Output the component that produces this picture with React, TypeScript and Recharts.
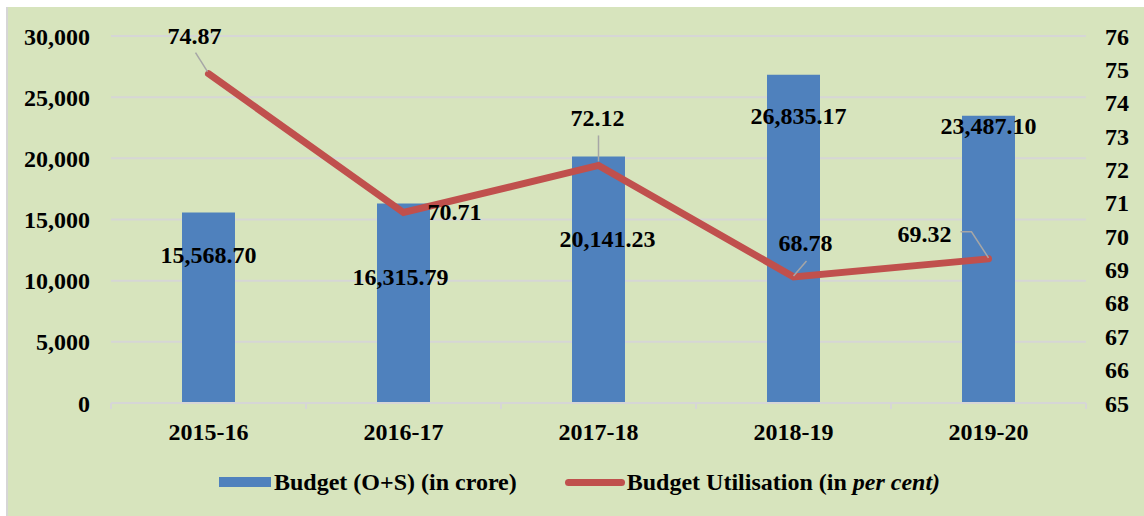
import { Bar, CartesianGrid, ComposedChart, LabelList, Legend, Line, XAxis, YAxis } from "recharts";

const years = ["2015-16", "2016-17", "2017-18", "2018-19", "2019-20"];
const budget = [15568.7, 16315.79, 20141.23, 26835.17, 23487.1];
const utilisation = [74.87, 70.71, 72.12, 68.78, 69.32];
const leftTicks = [0, 5000, 10000, 15000, 20000, 25000, 30000];
const rightTicks = [65, 66, 67, 68, 69, 70, 71, 72, 73, 74, 75, 76];

const data = years.map((year, i) => ({ year, budget: budget[i], utilisation: utilisation[i] }));

// hand-placed label spots (like dragged labels in Excel), relative to the mark
const barLabelOffset = [[0, 42], [-3, 74], [9, 82], [5, 41], [0, 10]];
const lineLabelOffset = [[-14, -38], [51, 0], [-1, -47], [12, -34], [-64, -25]];
const leaders: (number[][] | null)[] = [
  [[-13, -21], [-1, -2]],
  null,
  [[0, -30], [0, -4]],
  [[13, -16], [0, -1]],
  [[-28, -27], [-17, -27], [0, -1]],
];

const BLUE = "#4F81BD";
const RED = "#C0504D";
const BG = "#D7E4BD";
const GRID = "#D6D6D6";
const FONT = '"Liberation Serif", "Times New Roman", serif';
const FS = 24;
const HALF_BAND = 97.5;

const fmt = (v: number) => v.toLocaleString("en-US", { minimumFractionDigits: 2, maximumFractionDigits: 2 });

function YearTick({ x, y, payload, index }: any) {
  const axisY = y - 20;
  return (
    <g>
      <line x1={x - HALF_BAND} x2={x - HALF_BAND} y1={axisY} y2={axisY + 6} stroke={GRID} strokeWidth={2} />
      {index === years.length - 1 && (
        <line x1={x + HALF_BAND} x2={x + HALF_BAND} y1={axisY} y2={axisY + 6} stroke={GRID} strokeWidth={2} />
      )}
      <text x={x} y={y} dy="0.71em" textAnchor="middle" fontFamily={FONT} fontWeight="bold" fontSize={FS} fill="#000">
        {payload.value}
      </text>
    </g>
  );
}

function BarValue({ x, y, width, value, index }: any) {
  const [dx, dy] = barLabelOffset[index];
  return (
    <text x={x + width / 2 + dx} y={y + dy} textAnchor="middle" dominantBaseline="central"
      fontFamily={FONT} fontWeight="bold" fontSize={FS} fill="#000">
      {fmt(value)}
    </text>
  );
}

function LineValue({ x, y, value, index }: any) {
  const [dx, dy] = lineLabelOffset[index];
  const lead = leaders[index];
  return (
    <g>
      {lead && (
        <polyline points={lead.map(([a, b]) => `${x + a},${y + b}`).join(" ")} fill="none" stroke="#A6A6A6" strokeWidth={1.5} />
      )}
      <text x={x + dx} y={y + dy} textAnchor="middle" dominantBaseline="central"
        fontFamily={FONT} fontWeight="bold" fontSize={FS} fill="#000">
        {value.toFixed(2)}
      </text>
    </g>
  );
}

function LegendRow() {
  return (
    <div style={{ display: "flex", alignItems: "center", height: 30, paddingLeft: 211, fontFamily: FONT, fontWeight: "bold", fontSize: FS, color: "#000" }}>
      <span style={{ width: 52, height: 10, background: BLUE, marginRight: 3 }} />
      <span>Budget (O+S) (in crore)</span>
      <span style={{ width: 60, height: 7, background: RED, borderRadius: 4, marginLeft: 48, marginRight: 2 }} />
      <span>
        Budget Utilisation (in <i>per cent)</i>
      </span>
    </div>
  );
}

export default function App() {
  return (
    <div style={{ position: "absolute", left: 0, top: 0, width: 1144, height: 516, background: "#fff", overflow: "hidden" }}>
      <div style={{ position: "absolute", left: 6, top: 7, width: 1138, height: 509, background: BG, borderLeft: `2px solid ${GRID}`, boxSizing: "border-box" }}>
        <ComposedChart width={1136} height={509} data={data} margin={{ top: 29, right: 0, bottom: 18, left: 0 }}>
          <CartesianGrid vertical={false} stroke={GRID} strokeWidth={2} />
          <XAxis dataKey="year" height={65} tickLine={false} tickSize={0} tickMargin={20} axisLine={{ stroke: GRID, strokeWidth: 2 }} tick={<YearTick />} />
          <YAxis yAxisId={0} width={103} domain={[0, 30000]} ticks={leftTicks} interval={0} axisLine={false} tickLine={false} tickSize={0} tickMargin={21}
            tickFormatter={(v: number) => v.toLocaleString("en-US")}
            tick={{ fill: "#000", fontFamily: FONT, fontWeight: "bold", fontSize: FS }} />
          <YAxis yAxisId="right" orientation="right" width={58} domain={[65, 76]} ticks={rightTicks} interval={0} axisLine={false} tickLine={false} tickSize={0} tickMargin={19}
            tick={{ fill: "#000", fontFamily: FONT, fontWeight: "bold", fontSize: FS }} />
          <Legend content={<LegendRow />} wrapperStyle={{ left: 0, top: 460, bottom: "auto", width: 1136, height: 30 }} />
          <Bar dataKey="budget" yAxisId={0} fill={BLUE} barSize={53} isAnimationActive={false}>
            <LabelList dataKey="budget" content={<BarValue />} />
          </Bar>
          <Line dataKey="utilisation" yAxisId="right" stroke={RED} strokeWidth={7} strokeLinecap="round" dot={false} activeDot={false} isAnimationActive={false}>
            <LabelList dataKey="utilisation" content={<LineValue />} />
          </Line>
        </ComposedChart>
      </div>
    </div>
  );
}
